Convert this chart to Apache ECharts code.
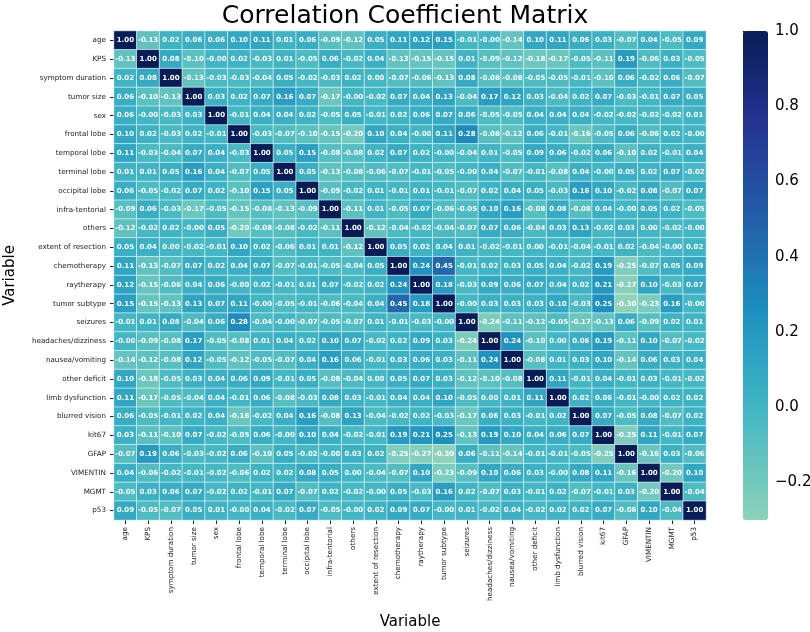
<!DOCTYPE html>
<html>
<head>
<meta charset="utf-8">
<script src="https://cdn.jsdelivr.net/npm/echarts@6/dist/echarts.min.js"></script>
<style>
  html, body { margin: 0; padding: 0; background: #fff; }
  #chart { width: 810px; height: 632px; }
</style>
</head>
<body>
<div id="chart"></div>
<script>
// variables in matrix order (top to bottom, left to right)
var variables = ['age', 'KPS', 'symptom duration', 'tumor size', 'sex', 'frontal lobe',
  'temporal lobe', 'terminal lobe', 'occipital lobe', 'infra-tentorial', 'others',
  'extent of resection', 'chemotherapy', 'raytherapy', 'tumor subtype', 'seizures',
  'headaches/dizziness', 'nausea/vomiting', 'other deficit', 'limb dysfunction',
  'blurred vision', 'kit67', 'GFAP', 'VIMENTIN', 'MGMT', 'p53'];

// correlation rows, one per variable
var corr = [
  [1.00, -0.13, 0.02, 0.06, 0.06, 0.10, 0.11, 0.01, 0.06, -0.09, -0.12, 0.05, 0.11, 0.12, 0.15, -0.01, -0.00, -0.14, 0.10, 0.11, 0.06, 0.03, -0.07, 0.04, -0.05, 0.09],
  [-0.13, 1.00, 0.08, -0.10, -0.00, 0.02, -0.03, 0.01, -0.05, 0.06, -0.02, 0.04, -0.13, -0.15, -0.15, 0.01, -0.09, -0.12, -0.18, -0.17, -0.05, -0.11, 0.19, -0.06, 0.03, -0.05],
  [0.02, 0.08, 1.00, -0.13, -0.03, -0.03, -0.04, 0.05, -0.02, -0.03, 0.02, 0.00, -0.07, -0.06, -0.13, 0.08, -0.08, -0.08, -0.05, -0.05, -0.01, -0.10, 0.06, -0.02, 0.06, -0.07],
  [0.06, -0.10, -0.13, 1.00, 0.03, 0.02, 0.07, 0.16, 0.07, -0.17, -0.00, -0.02, 0.07, 0.04, 0.13, -0.04, 0.17, 0.12, 0.03, -0.04, 0.02, 0.07, -0.03, -0.01, 0.07, 0.05],
  [0.06, -0.00, -0.03, 0.03, 1.00, -0.01, 0.04, 0.04, 0.02, -0.05, 0.05, -0.01, 0.02, 0.06, 0.07, 0.06, -0.05, -0.05, 0.04, 0.04, 0.04, -0.02, -0.02, -0.02, -0.02, 0.01],
  [0.10, 0.02, -0.03, 0.02, -0.01, 1.00, -0.03, -0.07, -0.10, -0.15, -0.20, 0.10, 0.04, -0.00, 0.11, 0.28, -0.08, -0.12, 0.06, -0.01, -0.16, -0.05, 0.06, -0.06, 0.02, -0.00],
  [0.11, -0.03, -0.04, 0.07, 0.04, -0.03, 1.00, 0.05, 0.15, -0.08, -0.08, 0.02, 0.07, 0.02, -0.00, -0.04, 0.01, -0.05, 0.09, 0.06, -0.02, 0.06, -0.10, 0.02, -0.01, 0.04],
  [0.01, 0.01, 0.05, 0.16, 0.04, -0.07, 0.05, 1.00, 0.05, -0.13, -0.08, -0.06, -0.07, -0.01, -0.05, -0.00, 0.04, -0.07, -0.01, -0.08, 0.04, -0.00, 0.05, 0.02, 0.07, -0.02],
  [0.06, -0.05, -0.02, 0.07, 0.02, -0.10, 0.15, 0.05, 1.00, -0.09, -0.02, 0.01, -0.01, 0.01, -0.01, -0.07, 0.02, 0.04, 0.05, -0.03, 0.16, 0.10, -0.02, 0.08, -0.07, 0.07],
  [-0.09, 0.06, -0.03, -0.17, -0.05, -0.15, -0.08, -0.13, -0.09, 1.00, -0.11, 0.01, -0.05, 0.07, -0.06, -0.05, 0.10, 0.16, -0.08, 0.08, -0.08, 0.04, -0.00, 0.05, 0.02, -0.05],
  [-0.12, -0.02, 0.02, -0.00, 0.05, -0.20, -0.08, -0.08, -0.02, -0.11, 1.00, -0.12, -0.04, -0.02, -0.04, -0.07, 0.07, 0.06, -0.04, 0.03, 0.13, -0.02, 0.03, 0.00, -0.02, -0.00],
  [0.05, 0.04, 0.00, -0.02, -0.01, 0.10, 0.02, -0.06, 0.01, 0.01, -0.12, 1.00, 0.05, 0.02, 0.04, 0.01, -0.02, -0.01, 0.00, -0.01, -0.04, -0.01, 0.02, -0.04, -0.00, 0.02],
  [0.11, -0.13, -0.07, 0.07, 0.02, 0.04, 0.07, -0.07, -0.01, -0.05, -0.04, 0.05, 1.00, 0.24, 0.45, -0.01, 0.02, 0.03, 0.05, 0.04, -0.02, 0.19, -0.25, -0.07, 0.05, 0.09],
  [0.12, -0.15, -0.06, 0.04, 0.06, -0.00, 0.02, -0.01, 0.01, 0.07, -0.02, 0.02, 0.24, 1.00, 0.18, -0.03, 0.09, 0.06, 0.07, 0.04, 0.02, 0.21, -0.27, 0.10, -0.03, 0.07],
  [0.15, -0.15, -0.13, 0.13, 0.07, 0.11, -0.00, -0.05, -0.01, -0.06, -0.04, 0.04, 0.45, 0.18, 1.00, -0.00, 0.03, 0.03, 0.03, 0.10, -0.03, 0.25, -0.30, -0.23, 0.16, -0.00],
  [-0.01, 0.01, 0.08, -0.04, 0.06, 0.28, -0.04, -0.00, -0.07, -0.05, -0.07, 0.01, -0.01, -0.03, -0.00, 1.00, -0.24, -0.11, -0.12, -0.05, -0.17, -0.13, 0.06, -0.09, 0.02, 0.01],
  [-0.00, -0.09, -0.08, 0.17, -0.05, -0.08, 0.01, 0.04, 0.02, 0.10, 0.07, -0.02, 0.02, 0.09, 0.03, -0.24, 1.00, 0.24, -0.10, 0.00, 0.06, 0.19, -0.11, 0.10, -0.07, -0.02],
  [-0.14, -0.12, -0.08, 0.12, -0.05, -0.12, -0.05, -0.07, 0.04, 0.16, 0.06, -0.01, 0.03, 0.06, 0.03, -0.11, 0.24, 1.00, -0.08, 0.01, 0.03, 0.10, -0.14, 0.06, 0.03, 0.04],
  [0.10, -0.18, -0.05, 0.03, 0.04, 0.06, 0.09, -0.01, 0.05, -0.08, -0.04, 0.00, 0.05, 0.07, 0.03, -0.12, -0.10, -0.08, 1.00, 0.11, -0.01, 0.04, -0.01, 0.03, -0.01, -0.02],
  [0.11, -0.17, -0.05, -0.04, 0.04, -0.01, 0.06, -0.08, -0.03, 0.08, 0.03, -0.01, 0.04, 0.04, 0.10, -0.05, 0.00, 0.01, 0.11, 1.00, 0.02, 0.06, -0.01, -0.00, 0.02, 0.02],
  [0.06, -0.05, -0.01, 0.02, 0.04, -0.16, -0.02, 0.04, 0.16, -0.08, 0.13, -0.04, -0.02, 0.02, -0.03, -0.17, 0.06, 0.03, -0.01, 0.02, 1.00, 0.07, -0.05, 0.08, -0.07, 0.02],
  [0.03, -0.11, -0.10, 0.07, -0.02, -0.05, 0.06, -0.00, 0.10, 0.04, -0.02, -0.01, 0.19, 0.21, 0.25, -0.13, 0.19, 0.10, 0.04, 0.06, 0.07, 1.00, -0.25, 0.11, -0.01, 0.07],
  [-0.07, 0.19, 0.06, -0.03, -0.02, 0.06, -0.10, 0.05, -0.02, -0.00, 0.03, 0.02, -0.25, -0.27, -0.30, 0.06, -0.11, -0.14, -0.01, -0.01, -0.05, -0.25, 1.00, -0.16, 0.03, -0.06],
  [0.04, -0.06, -0.02, -0.01, -0.02, -0.06, 0.02, 0.02, 0.08, 0.05, 0.00, -0.04, -0.07, 0.10, -0.23, -0.09, 0.10, 0.06, 0.03, -0.00, 0.08, 0.11, -0.16, 1.00, -0.20, 0.10],
  [-0.05, 0.03, 0.06, 0.07, -0.02, 0.02, -0.01, 0.07, -0.07, 0.02, -0.02, -0.00, 0.05, -0.03, 0.16, 0.02, -0.07, 0.03, -0.01, 0.02, -0.07, -0.01, 0.03, -0.20, 1.00, -0.04],
  [0.09, -0.05, -0.07, 0.05, 0.01, -0.00, 0.04, -0.02, 0.07, -0.05, -0.00, 0.02, 0.09, 0.07, -0.00, 0.01, -0.02, 0.04, -0.02, 0.02, 0.02, 0.07, -0.06, 0.10, -0.04, 1.00]
];

var colorMin = -0.3;
var colorMax = 1.0;
var colorbarTicks = [-0.2, 0.0, 0.2, 0.4, 0.6, 0.8, 1.0];

// YlGnBu stops, the centred (center=0) part of the map is used: 0.35 .. 1.0
var ylgnbu = ['#ffffd9', '#edf8b1', '#c7e9b4', '#7fcdbb', '#41b6c4', '#1d91c0', '#225ea8', '#253494', '#081d58'];
function hex2rgb(h) { return [parseInt(h.substr(1, 2), 16), parseInt(h.substr(3, 2), 16), parseInt(h.substr(5, 2), 16)]; }
function sampleMap(t) {
  var p = t * (ylgnbu.length - 1), i = Math.min(Math.floor(p), ylgnbu.length - 2), f = p - i;
  var a = hex2rgb(ylgnbu[i]), b = hex2rgb(ylgnbu[i + 1]);
  return 'rgb(' + [0, 1, 2].map(function (k) { return Math.round(a[k] + (b[k] - a[k]) * f); }).join(',') + ')';
}
var rampColors = [];
for (var s = 0; s <= 40; s++) {
  var v = colorMin + (colorMax - colorMin) * s / 40;
  rampColors.push(sampleMap(0.5 + v / 2));
}

var cells = [];
for (var i = 0; i < corr.length; i++) {
  for (var j = 0; j < corr[i].length; j++) {
    cells.push([j, i, corr[i][j]]);
  }
}

var myChart = echarts.init(document.getElementById('chart'));
var font = 'DejaVu Sans';
var option = {
  backgroundColor: '#fff',
  textStyle: { fontFamily: font },
  title: {
    text: 'Correlation Coefficient Matrix',
    left: 'center',
    top: -1,
    textStyle: { fontFamily: font, fontSize: 25, fontWeight: 'normal', color: '#000' }
  },
  grid: [
    { left: 114, top: 31, width: 592, height: 489, outerBoundsMode: 'none', containLabel: false },
    { left: 743, top: 31, width: 25, height: 489, outerBoundsMode: 'none', containLabel: false }
  ],
  xAxis: [
    {
      type: 'category',
      gridIndex: 0,
      data: variables,
      name: 'Variable',
      nameLocation: 'middle',
      nameGap: 95,
      nameTextStyle: { fontFamily: font, fontSize: 15, color: '#000' },
      axisLine: { show: false },
      axisTick: { show: true, alignWithLabel: true, length: 4, lineStyle: { color: '#222' } },
      axisLabel: { rotate: 90, interval: 0, fontSize: 7.2, color: '#222', margin: 7 },
      splitLine: { show: false }
    },
    { type: 'value', gridIndex: 1, show: false, min: 0, max: 1 }
  ],
  yAxis: [
    {
      type: 'category',
      gridIndex: 0,
      data: variables,
      inverse: true,
      name: 'Variable',
      nameLocation: 'middle',
      nameGap: 96,
      nameTextStyle: { fontFamily: font, fontSize: 15, color: '#000' },
      axisLine: { show: false },
      axisTick: { show: true, alignWithLabel: true, length: 4, lineStyle: { color: '#222' } },
      axisLabel: { interval: 0, fontSize: 7.2, color: '#222', margin: 8 },
      splitLine: { show: false }
    },
    {
      type: 'value',
      gridIndex: 1,
      min: colorMin,
      max: colorMax,
      position: 'right',
      axisLine: { show: true, lineStyle: { color: 'rgba(0,0,0,0)' } },
      splitLine: { show: false },
      axisTick: { show: true, inside: false, length: 4, customValues: colorbarTicks, lineStyle: { color: '#000', width: 1 } },
      axisLabel: {
        customValues: colorbarTicks,
        fontSize: 15,
        color: '#000',
        margin: 7,
        formatter: function (v) { return v.toFixed(1).replace('-', '\u2212'); }
      }
    }
  ],
  visualMap: {
    type: 'continuous',
    dimension: 2,
    seriesIndex: 0,
    min: colorMin,
    max: colorMax,
    calculable: false,
    orient: 'vertical',
    left: 743,
    top: 31,
    padding: 0,
    itemWidth: 25,
    itemHeight: 489,
    text: ['', ''],
    textGap: 0,
    inRange: { color: rampColors }
  },
  series: [{
    type: 'heatmap',
    xAxisIndex: 0,
    yAxisIndex: 0,
    data: cells,
    itemStyle: { borderColor: '#fff', borderWidth: 0.6 },
    label: {
      show: true,
      fontSize: 7,
      fontWeight: 'bold',
      color: '#fff',
      formatter: function (p) {
        var v = p.value[2];
        return Object.is(v, -0) ? '-0.00' : v.toFixed(2);
      }
    },
    emphasis: { disabled: true }
  }]
};
myChart.setOption(option);
</script>
</body>
</html>
